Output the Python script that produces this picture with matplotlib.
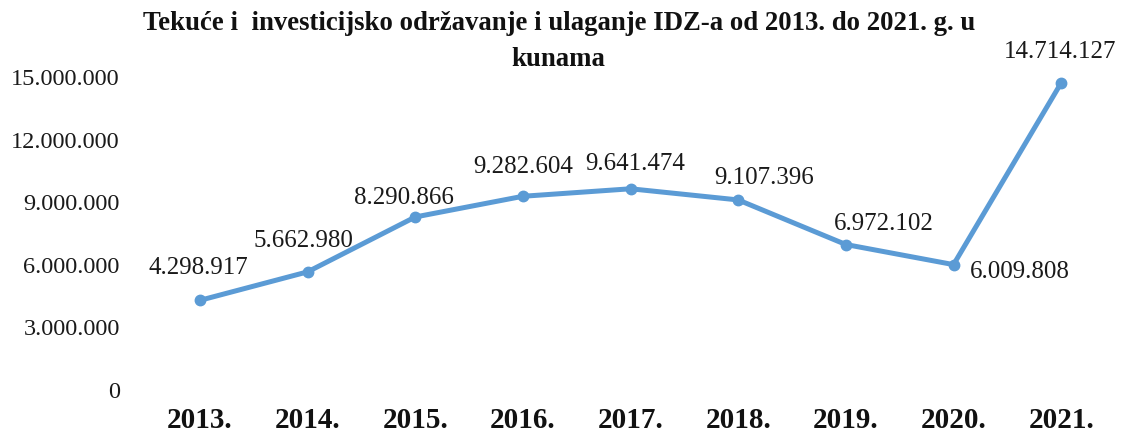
import matplotlib.pyplot as plt
from matplotlib.ticker import FuncFormatter

years = ['2013.', '2014.', '2015.', '2016.', '2017.', '2018.', '2019.', '2020.', '2021.']
values = [4298917, 5662980, 8290866, 9282604, 9641474, 9107396, 6972102, 6009808, 14714127]
title = 'Tekuće i  investicijsko održavanje i ulaganje IDZ-a od 2013. do 2021. g. u\nkunama'

# label offsets in points (dx, dy) and horizontal alignment
label_pos = [(-1, 23, 'center'), (-3, 22, 'center'), (-8, 14, 'center'), (0, 21, 'center'),
             (3, 18, 'center'), (19, 16, 'center'), (27, 15, 'center'), (12, -5, 'left'),
             (-1, 22, 'center')]

def fmt(v, pos=None):
    return f'{int(v):,}'.replace(',', '.')

plt.rcParams['font.family'] = ['Liberation Serif', 'DejaVu Serif']

fig = plt.figure(figsize=(11.24, 4.32), dpi=100)
ax = fig.add_axes([0.130, 0.097, 0.862, 0.725])

x = list(range(len(years)))
ax.plot(x, values, color='#5B9BD5', lw=3.6, marker='o', ms=7.5, solid_capstyle='round')

for i, v in enumerate(values):
    dx, dy, ha = label_pos[i]
    ax.annotate(fmt(v), (x[i], v), xytext=(dx, dy), textcoords='offset points',
                ha=ha, va='center', fontsize=18, color='#1a1a1a')

ax.set_xlim(-0.5, len(years) - 0.5)
ax.set_ylim(0, 15000000)
ax.set_yticks(range(0, 15000001, 3000000))
ax.yaxis.set_major_formatter(FuncFormatter(fmt))
ax.set_xticks(x)
ax.set_xticklabels(years, fontweight='bold', fontsize=21)
ax.tick_params(axis='y', length=0, pad=19, labelsize=17.5, labelcolor='#1a1a1a')
ax.tick_params(axis='x', length=0, pad=12, labelcolor='#111111')
for s in ax.spines.values():
    s.set_visible(False)

fig.text(0.497, 0.904, title, ha='center', va='center', fontsize=19.3, fontweight='bold',
         linespacing=1.55, color='#111111')

fig.savefig('out.png', dpi=100)
